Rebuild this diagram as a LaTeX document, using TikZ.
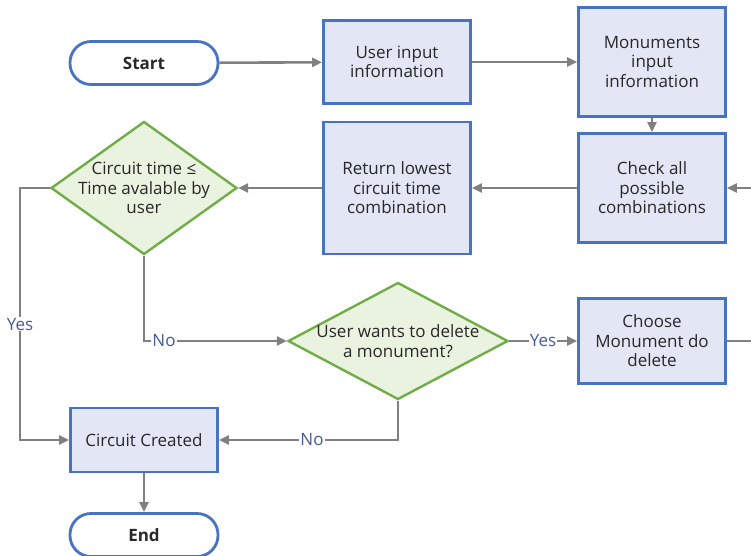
\documentclass[tikz,border=0pt]{standalone}
\usepackage{fontspec}
\setmainfont{Open Sans}
\usetikzlibrary{shapes.geometric,arrows.meta}
\definecolor{boxfill}{RGB}{226,230,245}
\definecolor{boxline}{RGB}{72,114,196}
\definecolor{dfill}{RGB}{234,243,224}
\definecolor{dline}{RGB}{112,173,71}
\definecolor{conn}{RGB}{128,128,128}
\definecolor{lbl}{RGB}{68,90,150}
\definecolor{txt}{RGB}{40,40,40}
\begin{document}
\begin{tikzpicture}[x=1pt,y=-1pt,
  every node/.style={font=\fontsize{17}{19.5}\selectfont, text=txt, align=center},
  procbox/.style={draw=boxline, fill=boxfill, line width=2.8pt, minimum width=147pt, inner sep=1pt},
  term/.style={draw=boxline, fill=white, line width=2.8pt, rounded corners=21pt, minimum width=148pt, minimum height=43pt, font=\fontsize{17}{19.5}\selectfont\bfseries},
  decision/.style={diamond, draw=dline, fill=dfill, line width=2.4pt, inner sep=0pt},
  conn/.style={draw=conn, line width=2.6pt},
  arr/.style={conn, -{Triangle[length=10pt,width=9pt]}},
  lab/.style={fill=white, text=lbl, inner sep=1pt, font=\fontsize{17}{19}\selectfont}]
\useasboundingbox (0,0) rectangle (751,555);

\node[term] (start) at (144,63) {Start};
\node[procbox, minimum height=83pt] (user) at (397,62) {User input\\information};
\node[procbox, minimum height=109pt] (mon) at (652,62) {Monuments\\input\\information};
\node[procbox, minimum height=109pt] (check) at (652,188) {Check all\\possible\\combinations};
\node[procbox, minimum height=132pt] (ret) at (397,188) {Return lowest\\circuit time\\combination};
\node[decision, minimum width=186pt, minimum height=133pt] (d1) at (144,188) {};
\node (d1t) at (144,188) {Circuit time \char"2264\\Time avalable by\\user};
\node[decision, minimum width=220pt, minimum height=117pt] (d2) at (398,341) {};
\node (d2t) at (398,341) {User wants to delete\\a monument?};
\node[procbox, minimum height=85pt] (choose) at (652,341) {Choose\\Monument do\\delete};
\node[procbox, minimum height=64pt] (created) at (144,440) {Circuit Created};
\node[term] (end) at (144,535) {End};

\coordinate (rout) at (790,341);
\coordinate (rin) at (790,188);
\coordinate (yescorner) at (20,188);

\draw[arr] (start) -- (user);
\draw[arr] (user) -- (mon);
\draw[arr] (mon) -- (check);
\draw[arr] (check) -- (ret);
\draw[arr] (ret) -- (d1);
\draw[arr] (d1.west) -- (yescorner) |- node[lab, pos=0.27] {Yes} (created.west);
\draw[arr] (d1.south) |- node[lab, pos=0.57] {No} (d2.west);
\draw[arr] (d2.east) -- node[lab, pos=0.5] {Yes} (choose.west);
\draw[arr] (d2.south) |- node[lab, pos=0.74] {No} (created.east);
\draw[arr] (created) -- (end);
\draw[conn] (choose.east) -- (rout) -- (rin);
\draw[arr] (rin) -- (check.east);
\end{tikzpicture}
\end{document}
